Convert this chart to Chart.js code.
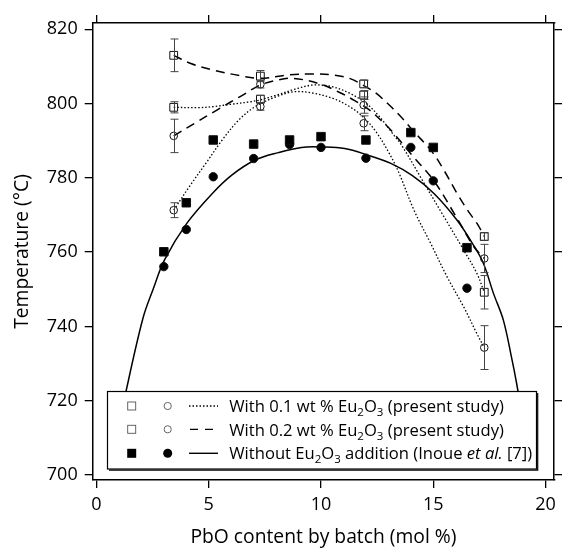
<!DOCTYPE html>
<html>
<head>
<meta charset="utf-8">
<script src="https://cdn.jsdelivr.net/npm/chart.js@4.4.1/dist/chart.umd.min.js"></script>
<style>
  html, body { margin: 0; padding: 0; background: #fff; }
  canvas { display: block; }
</style>
</head>
<body>
<canvas id="chart" width="562" height="553"></canvas>
<script>
// ---- Axis ticks ----
const xTickValues = [0, 5, 10, 15, 20];
const yTickValues = [700, 720, 740, 760, 780, 800, 820];

// ---- Without Eu2O3 addition (Inoue et al.) ----
const inoueX = [3.0, 4.0, 5.2, 7.0, 8.6, 10.0, 12.0, 14.0, 15.0, 16.5];
const inoueSquareY = [760.1, 773.3, 790.2, 789.1, 790.2, 791.1, 790.2, 792.2, 788.2, 761.2];
const inoueCircleY = [756.1, 766.1, 780.3, 785.2, 789.0, 788.2, 785.3, 788.2, 779.2, 750.3];

// ---- Present study: batches measured ----
const studyX = [3.44, 7.3, 11.9, 17.27];
const eu01SquareY = [799.0, 801.2, 802.3, 749.2];
const eu01SquareErr = [1.5, 1.0, 1.2, 4.5];
const eu01CircleY = [771.3, 799.2, 794.7, 734.3];
const eu01CircleErr = [2.0, 1.0, 2.0, 5.9];
const eu02SquareY = [813.0, 807.4, 805.3, 764.2];
const eu02SquareErr = [4.4, 1.5, 1.0, 1.0];
const eu02CircleY = [791.3, 805.2, 799.6, 758.3];
const eu02CircleErr = [4.5, 1.0, 2.2, 3.8];

// ---- Fitted curves ----
const fitInoueX = [1.05, 1.33, 2.07, 2.51, 3.03, 4.03, 5.16, 6.04, 7.07, 8.1, 9.13, 10.06, 11.05, 12.05, 13.11, 14.07, 15.03, 16.06, 16.79, 17.23, 17.68, 18.12, 18.48, 18.71, 18.95];
const fitInoueY = [714.0, 722.9, 742.2, 749.8, 757.9, 767.8, 775.8, 780.8, 784.8, 786.8, 788.2, 788.3, 787.9, 786.2, 783.9, 780.6, 775.8, 768.6, 761.9, 757.0, 748.9, 741.7, 731.8, 724.7, 716.0];

const fitEu01SquareX = [3.44, 4.5, 5.23, 5.97, 6.86, 7.3, 8.03, 8.85, 9.65, 10.53, 11.27, 12.0, 12.6, 13.18, 13.63, 14.5, 15.4, 16.35, 16.94, 17.27];
const fitEu01SquareY = [799.0, 798.9, 799.2, 799.8, 800.5, 801.0, 802.3, 803.9, 805.0, 804.5, 802.8, 800.1, 796.5, 792.0, 788.4, 779.5, 770.3, 760.6, 754.3, 749.2];

const fitEu01CircleX = [3.44, 4.13, 4.87, 5.6, 6.34, 7.07, 8.03, 8.8, 9.65, 10.53, 11.27, 11.86, 12.45, 13.04, 13.48, 14.14, 14.88, 15.61, 16.35, 16.94, 17.27];
const fitEu01CircleY = [771.3, 777.6, 783.9, 790.2, 795.6, 799.2, 801.9, 803.2, 802.8, 801.4, 799.2, 796.5, 792.4, 786.6, 781.2, 771.3, 762.4, 753.4, 745.3, 738.1, 734.3];

const fitEu02SquareX = [3.44, 4.2, 5.23, 6.41, 7.3, 8.55, 9.65, 10.53, 11.27, 11.86, 12.45, 13.04, 13.63, 14.07, 14.95, 15.47, 16.06, 16.57, 16.94, 17.28];
const fitEu02SquareY = [813.0, 810.8, 809.0, 807.5, 806.8, 807.7, 808.0, 807.7, 806.8, 805.0, 802.8, 799.6, 796.0, 792.9, 787.0, 782.1, 775.8, 770.9, 767.8, 764.2];

const fitEu02CircleX = [3.44, 4.4, 5.4, 6.4, 7.3, 8.03, 8.77, 9.95, 10.83, 11.5, 12.15, 12.74, 13.18, 14.07, 15.03, 16.06, 16.79, 17.27];
const fitEu02CircleY = [791.3, 794.8, 798.4, 801.9, 805.0, 806.3, 806.8, 805.3, 803.0, 800.8, 798.3, 795.1, 792.4, 786.0, 779.2, 769.1, 761.6, 758.3];

// ---- helpers ----
const FONT = "'Open Sans', 'Noto Sans', sans-serif";
const pts = (xs, ys) => xs.map((x, i) => ({ x: x, y: ys[i] }));
const fixedTicks = values => scale => { scale.ticks = values.map(v => ({ value: v })); };

function curve(xs, ys, dash, width) {
  return {
    data: pts(xs, ys), showLine: true, pointRadius: 0, fill: false,
    borderColor: '#000', borderWidth: width, borderDash: dash,
    tension: 0.35, order: 2
  };
}
function markers(xs, ys, style, radius, filled) {
  return {
    data: pts(xs, ys), showLine: false, pointStyle: style, pointRadius: radius,
    pointBorderWidth: 1, borderColor: '#111',
    backgroundColor: filled ? '#000' : 'rgba(0,0,0,0)',
    pointBackgroundColor: filled ? '#000' : 'rgba(0,0,0,0)',
    order: 1
  };
}

// Vertical error bars for the present-study points
const errorSets = [
  [studyX, eu01SquareY, eu01SquareErr],
  [studyX, eu01CircleY, eu01CircleErr],
  [studyX, eu02SquareY, eu02SquareErr],
  [studyX, eu02CircleY, eu02CircleErr]
];
const errorBarPlugin = {
  id: 'errorBars',
  afterDatasetsDraw(chart) {
    const { ctx, scales: { x, y }, chartArea } = chart;
    ctx.save();
    ctx.beginPath();
    ctx.rect(chartArea.left, chartArea.top, chartArea.right - chartArea.left, chartArea.bottom - chartArea.top);
    ctx.clip();
    ctx.strokeStyle = '#444';
    ctx.lineWidth = 1;
    errorSets.forEach(([xs, ys, es]) => {
      xs.forEach((xv, i) => {
        const px = Math.round(x.getPixelForValue(xv)) + 0.5;
        const y1 = y.getPixelForValue(ys[i] + es[i]);
        const y2 = y.getPixelForValue(ys[i] - es[i]);
        ctx.beginPath();
        ctx.moveTo(px, y1); ctx.lineTo(px, y2);
        ctx.moveTo(px - 4, y1); ctx.lineTo(px + 4, y1);
        ctx.moveTo(px - 4, y2); ctx.lineTo(px + 4, y2);
        ctx.stroke();
      });
    });
    ctx.restore();
  }
};

// Legend box with chemical subscripts
const legendRows = [
  { filled: false, dash: [1.5, 2], lineFrom: 189, lineTo: 218,
    parts: [['With 0.1 wt % Eu'], ['2', 'sub'], ['O'], ['3', 'sub'], [' (present study)']] },
  { filled: false, dash: [8, 7], lineFrom: 190, lineTo: 213,
    parts: [['With 0.2 wt % Eu'], ['2', 'sub'], ['O'], ['3', 'sub'], [' (present study)']] },
  { filled: true, dash: [], lineFrom: 189, lineTo: 218,
    parts: [['Without Eu'], ['2', 'sub'], ['O'], ['3', 'sub'], [' addition (Inoue '], ['et al.', 'it'], [' [7])']] }
];
const LEGEND_SIZE = 16.6;
const legendPlugin = {
  id: 'boxLegend',
  afterDraw(chart) {
    const ctx = chart.ctx;
    const box = { l: 107.5, t: 391.5, r: 536.5, b: 469 };
    const rowY = [406, 429.3, 453.3];
    const baseY = [411.7, 435.7, 459];
    ctx.save();
    ctx.fillStyle = '#fff';
    ctx.fillRect(box.l, box.t, box.r - box.l, box.b - box.t);
    ctx.strokeStyle = '#000';
    ctx.lineWidth = 1.2;
    ctx.strokeRect(box.l, box.t, box.r - box.l, box.b - box.t);
    ctx.beginPath();
    ctx.moveTo(box.l + 1.5, box.b + 1.2); ctx.lineTo(box.r + 1.2, box.b + 1.2); ctx.lineTo(box.r + 1.2, box.t + 1.5);
    ctx.stroke();

    legendRows.forEach((row, i) => {
      const cy = rowY[i];
      if (row.filled) {
        ctx.fillStyle = '#000';
        ctx.fillRect(131.7 - 4.5, cy - 4.5, 9, 9);
        ctx.beginPath(); ctx.arc(167.7, cy, 4.5, 0, Math.PI * 2); ctx.fill();
      } else {
        ctx.strokeStyle = '#555'; ctx.lineWidth = 0.9;
        ctx.strokeRect(131.7 - 4, cy - 4, 8, 8);
        ctx.beginPath(); ctx.arc(167.7, cy, 3.6, 0, Math.PI * 2); ctx.stroke();
      }
      ctx.strokeStyle = '#000'; ctx.lineWidth = row.filled ? 1.4 : 1.3;
      ctx.setLineDash(row.dash);
      ctx.beginPath(); ctx.moveTo(row.lineFrom, cy); ctx.lineTo(row.lineTo, cy); ctx.stroke();
      ctx.setLineDash([]);
      ctx.fillStyle = '#000';
      ctx.textBaseline = 'alphabetic';
      ctx.textAlign = 'left';
      let x = 229.3;
      row.parts.forEach(([txt, kind]) => {
        let dy = 0;
        if (kind === 'sub') { ctx.font = `11.5px ${FONT}`; dy = 4; }
        else if (kind === 'it') { ctx.font = `italic ${LEGEND_SIZE}px ${FONT}`; }
        else { ctx.font = `${LEGEND_SIZE}px ${FONT}`; }
        ctx.fillText(txt, x, baseY[i] + dy);
        x += ctx.measureText(txt).width;
      });
    });
    ctx.restore();
  }
};

const tickFont = { family: FONT, size: 18 };
const titleFont = { family: FONT, size: 19.3 };
const tickGrid = { drawOnChartArea: false, drawTicks: true, tickLength: 8, color: '#000', lineWidth: 1.3 };
const frameBorder = { display: true, color: '#000', width: 1.5 };

new Chart(document.getElementById('chart'), {
  type: 'scatter',
  data: {
    datasets: [
      curve(fitInoueX, fitInoueY, [], 1.5),
      curve(fitEu01SquareX, fitEu01SquareY, [1.5, 2], 1.3),
      curve(fitEu01CircleX, fitEu01CircleY, [1.5, 2], 1.3),
      curve(fitEu02SquareX, fitEu02SquareY, [9, 6], 1.5),
      curve(fitEu02CircleX, fitEu02CircleY, [9, 6], 1.5),
      markers(inoueX, inoueSquareY, 'rect', 6, true),
      markers(inoueX, inoueCircleY, 'circle', 4.2, true),
      markers(studyX, eu01SquareY, 'rect', 5.5, false),
      markers(studyX, eu01CircleY, 'circle', 3.8, false),
      markers(studyX, eu02SquareY, 'rect', 5.5, false),
      markers(studyX, eu02CircleY, 'circle', 3.8, false)
    ]
  },
  options: {
    responsive: false,
    animation: false,
    events: [],
    layout: { padding: { left: 7, right: 0, top: 0, bottom: 0 } },
    plugins: { legend: { display: false }, tooltip: { enabled: false } },
    scales: {
      x: {
        type: 'linear', position: 'bottom', min: -0.168, max: 20.384,
        afterBuildTicks: fixedTicks(xTickValues),
        ticks: { color: '#000', font: tickFont, padding: 6, maxRotation: 0 },
        grid: tickGrid, border: frameBorder,
        title: { display: true, text: 'PbO content by batch (mol %)', color: '#000', font: titleFont },
        afterFit: s => { s.height = 73; }
      },
      xTop: {
        type: 'linear', position: 'top', min: -0.168, max: 20.384,
        afterBuildTicks: fixedTicks(xTickValues),
        ticks: { display: false }, grid: tickGrid, border: frameBorder,
        afterFit: s => { s.height = 23; }
      },
      y: {
        type: 'linear', position: 'left', min: 698.65, max: 821.7,
        afterBuildTicks: fixedTicks(yTickValues),
        ticks: { color: '#000', font: tickFont, padding: 7 },
        grid: tickGrid, border: frameBorder,
        title: { display: true, text: 'Temperature (°C)', color: '#000', font: titleFont },
        afterFit: s => { s.width = 85.7; }
      },
      yRight: {
        type: 'linear', position: 'right', min: 698.65, max: 821.7,
        afterBuildTicks: fixedTicks(yTickValues),
        ticks: { display: false }, grid: tickGrid, border: frameBorder,
        afterFit: s => { s.width = 4; }
      }
    }
  },
  plugins: [errorBarPlugin, legendPlugin]
});
</script>
</body>
</html>
